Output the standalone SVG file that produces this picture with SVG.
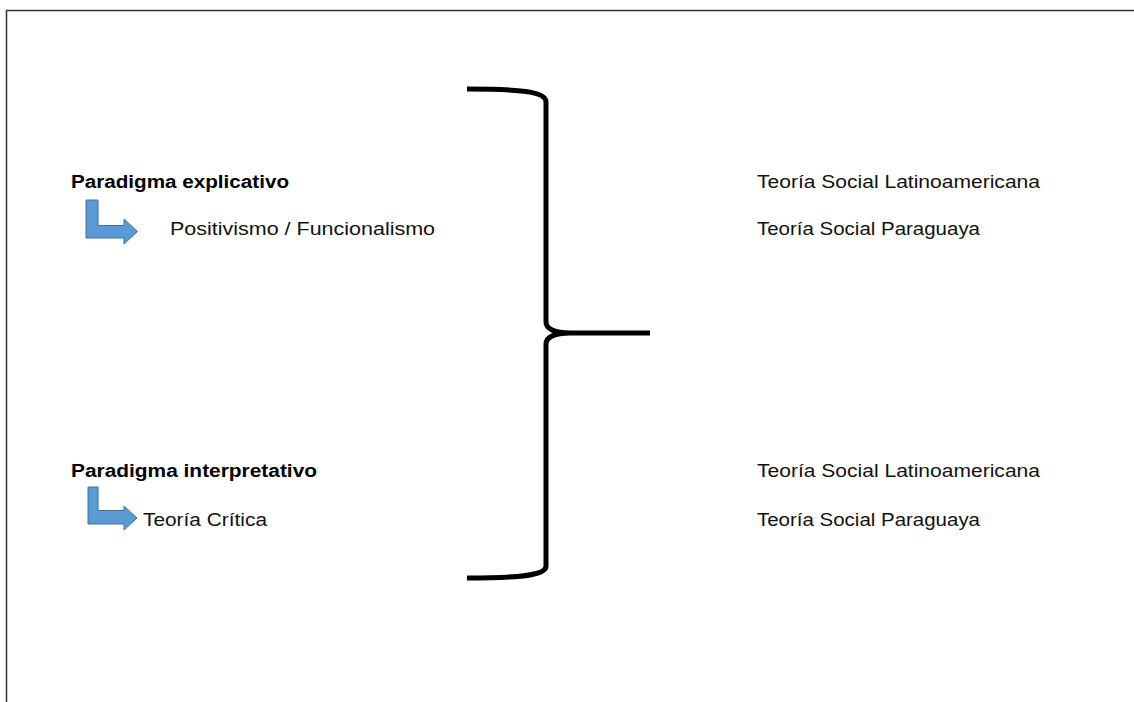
<svg xmlns="http://www.w3.org/2000/svg" width="1134" height="702" viewBox="0 0 1134 702">
<style>
.t{font-family:"Liberation Sans",Arial,sans-serif;font-size:17.5px;fill:#111}
.b{font-weight:bold;fill:#000}
.arr{fill:#5B9BD5;stroke:#41719C;stroke-width:1}
.brace{fill:none;stroke:#000;stroke-width:5;stroke-linecap:butt;stroke-linejoin:miter}
</style>
<rect x="0" y="0" width="1134" height="702" fill="#fff"/>
<g id="frame"><path d="M6.5,702 L6.5,10.5 L1134,10.5" fill="none" stroke="#333" stroke-width="1.5"/></g>
<g id="node-explicativo">
<text class="t b" x="71" y="188" textLength="218" lengthAdjust="spacingAndGlyphs">Paradigma explicativo</text>
</g>
<g id="node-positivismo">
<text class="t" x="170" y="235" textLength="265" lengthAdjust="spacingAndGlyphs">Positivismo / Funcionalismo</text>
</g>
<g id="node-interpretativo">
<text class="t b" x="71" y="477" textLength="246" lengthAdjust="spacingAndGlyphs">Paradigma interpretativo</text>
</g>
<g id="node-critica">
<text class="t" x="143" y="526" textLength="124" lengthAdjust="spacingAndGlyphs">Teoría Crítica</text>
</g>
<g id="node-latam1">
<text class="t" x="757" y="188" textLength="283" lengthAdjust="spacingAndGlyphs">Teoría Social Latinoamericana</text>
</g>
<g id="node-py1">
<text class="t" x="757" y="235" textLength="223" lengthAdjust="spacingAndGlyphs">Teoría Social Paraguaya</text>
</g>
<g id="node-latam2">
<text class="t" x="757" y="477" textLength="283" lengthAdjust="spacingAndGlyphs">Teoría Social Latinoamericana</text>
</g>
<g id="node-py2">
<text class="t" x="757" y="526" textLength="223" lengthAdjust="spacingAndGlyphs">Teoría Social Paraguaya</text>
</g>
<g id="connectors">
<polygon class="arr" points="86,200 98,200 98,225.5 124,225.5 124,219 137.5,231.5 124,244 124,238 86,238"/>
<polygon class="arr" points="88,487 98,487 98,510.5 124,510.5 124,506 137,518 124,530 124,524 88,524"/>
<path class="brace" d="M467,89 C530,89 546,93 546,102 L546,322 C546,329 555,333 570,333 L650,333 M570,333 C555,333 546,337 546,344 L546,566 C546,574 530,578 467,578"/>
</g>
</svg>
